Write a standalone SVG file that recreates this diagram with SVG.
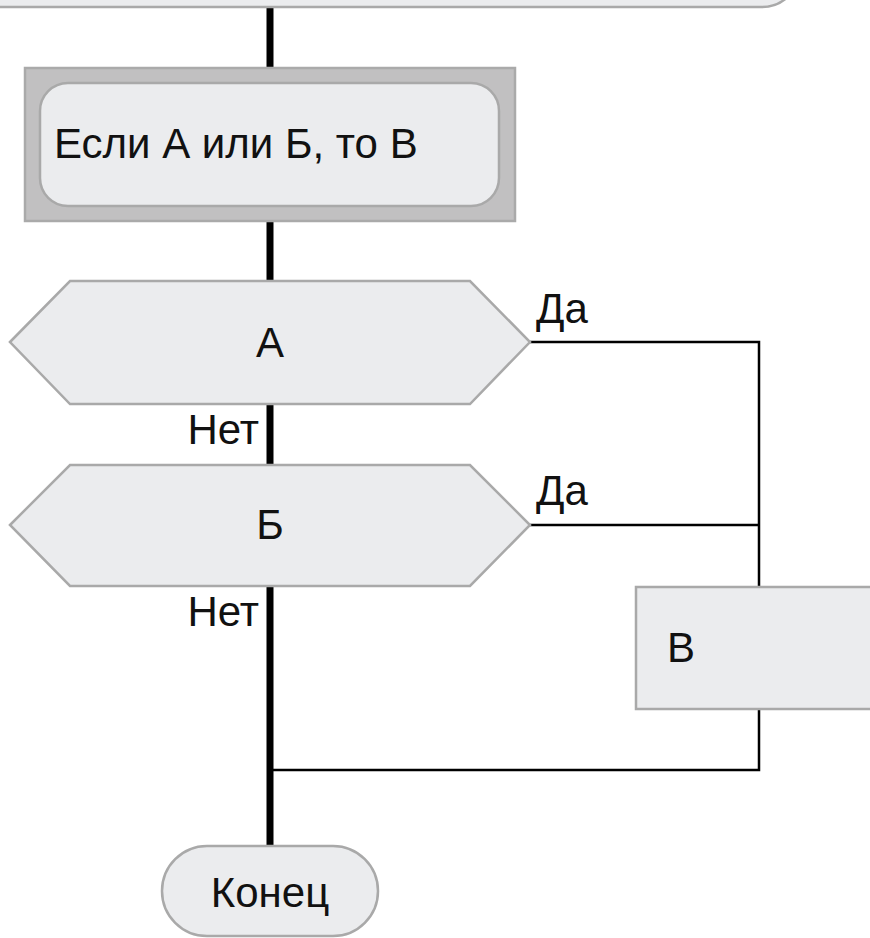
<svg xmlns="http://www.w3.org/2000/svg" width="870" height="938" viewBox="0 0 870 938">
<style>
.t{font-family:"Liberation Sans",Arial,sans-serif;font-size:42px;fill:#111}
.node{fill:#ebecee;stroke:#a9a9a9;stroke-width:2.5}
.main{stroke:#000;stroke-width:7;fill:none}
.br{stroke:#000;stroke-width:2.5;fill:none}
</style>
<rect width="870" height="938" fill="#fff"/>
<g id="connectors">
<line class="main" x1="270" y1="7" x2="270" y2="68"/>
<line class="main" x1="270" y1="221" x2="270" y2="281"/>
<line class="main" x1="270" y1="404" x2="270" y2="465"/>
<line class="main" x1="270" y1="586" x2="270" y2="846"/>
<polyline class="br" points="530,342 759,342 759,587"/>
<line class="br" x1="530" y1="525" x2="759" y2="525"/>
<polyline class="br" points="759,709 759,770 270,770"/>
<text class="t" x="536" y="323">Да</text>
<text class="t" x="536" y="505">Да</text>
<text class="t" x="259" y="444" text-anchor="end">Нет</text>
<text class="t" x="259" y="626" text-anchor="end">Нет</text>
</g>
<g id="top">
<rect class="node" x="-40" y="-80" width="840" height="87" rx="38"/>
</g>
<g id="if">
<rect x="25" y="68" width="490" height="153" fill="#c1c0c1" stroke="#aaa" stroke-width="2.5"/>
<rect class="node" x="40" y="83" width="459" height="123" rx="28"/>
<text class="t" x="54" y="158">Если А или Б, то В</text>
</g>
<g id="a">
<polygon class="node" points="10,342 70,281 470,281 530,342 470,404 70,404"/>
<text class="t" x="270" y="357" text-anchor="middle">А</text>
</g>
<g id="b">
<polygon class="node" points="10,525 70,465 470,465 530,525 470,586 70,586"/>
<text class="t" x="270" y="539" text-anchor="middle">Б</text>
</g>
<g id="v">
<rect class="node" x="636" y="587" width="260" height="122"/>
<text class="t" x="667" y="662">В</text>
</g>
<g id="end">
<rect class="node" x="162" y="846" width="216" height="90" rx="45"/>
<text class="t" x="270" y="907" text-anchor="middle">Конец</text>
</g>
</svg>
